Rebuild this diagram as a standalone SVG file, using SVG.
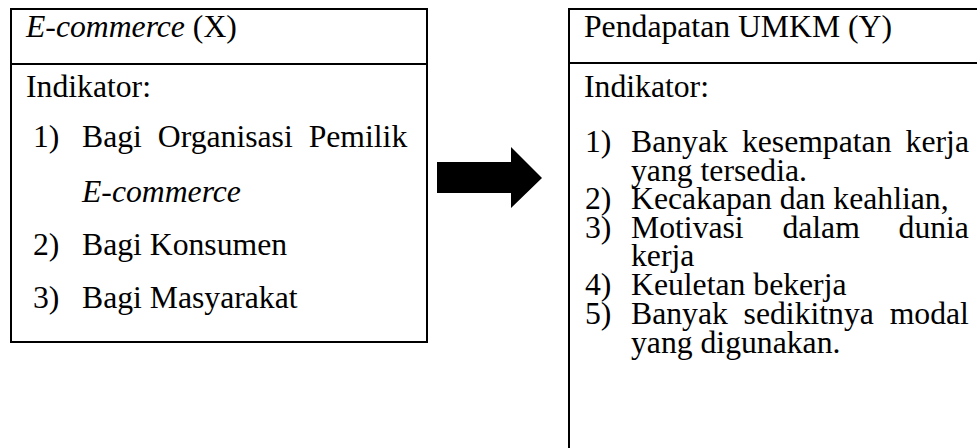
<svg xmlns="http://www.w3.org/2000/svg" width="977" height="448" viewBox="0 0 977 448">
<style>
.box{fill:#fff;stroke:#000;stroke-width:2}
.div{stroke:#000;stroke-width:2}
text{font-family:"Liberation Serif","Times New Roman",serif;font-size:31.7px;fill:#000}
.it{font-style:italic}
</style>
<rect width="977" height="448" fill="#fff"/>
<g id="node-x">
<rect class="box" x="11" y="9" width="416" height="333"/>
<line class="div" x1="11" y1="64" x2="427" y2="64"/>
<text x="26" y="37"><tspan class="it">E-commerce</tspan> (X)</text>
<text x="26" y="97">Indikator:</text>
<text x="33" y="147">1)</text>
<text x="82" y="147" word-spacing="8">Bagi Organisasi Pemilik</text>
<text x="82" y="202" class="it">E-commerce</text>
<text x="33" y="255">2)</text>
<text x="82" y="255">Bagi Konsumen</text>
<text x="33" y="308">3)</text>
<text x="82" y="308">Bagi Masyarakat</text>
</g>
<g id="node-y">
<rect class="box" x="569" y="9" width="430" height="460"/>
<line class="div" x1="569" y1="63" x2="977" y2="63"/>
<text x="584" y="37">Pendapatan UMKM (Y)</text>
<text x="584" y="97">Indikator:</text>
<text x="585" y="152">1)</text>
<text x="631" y="152" word-spacing="6.2">Banyak kesempatan kerja</text>
<text x="631" y="181">yang tersedia.</text>
<text x="585" y="209">2)</text>
<text x="631" y="209">Kecakapan dan keahlian,</text>
<text x="585" y="238">3)</text>
<text x="631" y="238" word-spacing="30.8">Motivasi dalam dunia</text>
<text x="631" y="266">kerja</text>
<text x="585" y="295">4)</text>
<text x="631" y="295">Keuletan bekerja</text>
<text x="585" y="324">5)</text>
<text x="631" y="324" word-spacing="7.9">Banyak sedikitnya modal</text>
<text x="631" y="353">yang digunakan.</text>
</g>
<g id="connectors">
<polygon points="437,162 511,162 511,147 542,178 511,208 511,193 437,193" fill="#000"/>
</g>
</svg>
